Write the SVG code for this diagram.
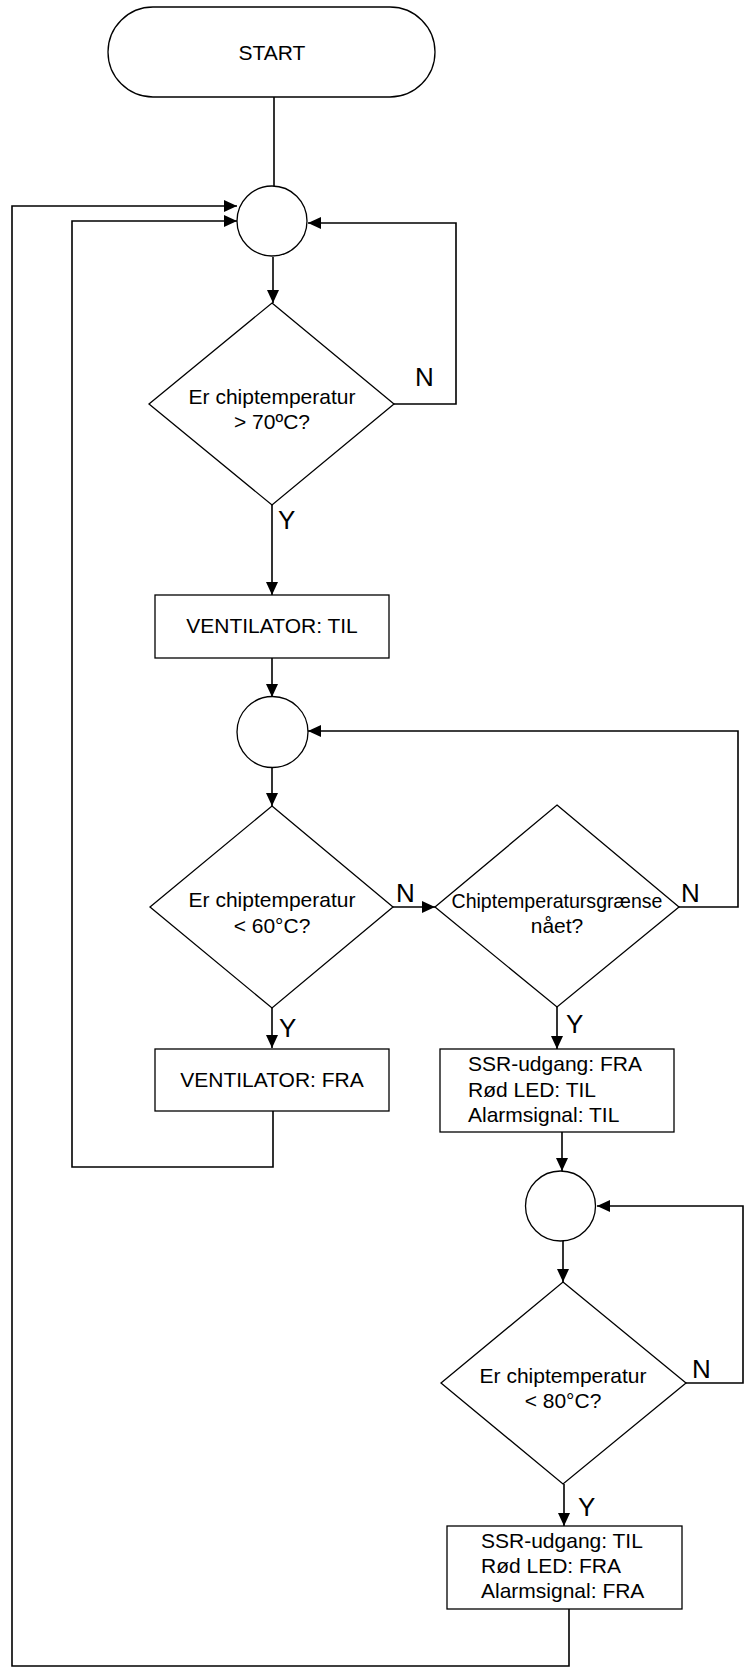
<svg xmlns="http://www.w3.org/2000/svg" width="747" height="1674" viewBox="0 0 747 1674">
<style>
.shape{fill:#fff;stroke:#000;stroke-width:1.3}
.t{font-family:"Liberation Sans",Arial,sans-serif;font-size:21px;fill:#000}
.c{text-anchor:middle}
.lbl{font-family:"Liberation Sans",Arial,sans-serif;font-size:26px;fill:#000}
.conn{fill:none;stroke:#000;stroke-width:1.6}
.arr{marker-end:url(#ah)}
</style>
<defs>
<marker id="ah" markerUnits="userSpaceOnUse" markerWidth="14" markerHeight="13" refX="13" refY="6" orient="auto">
<path d="M0,0 L13,6 L0,12 z" fill="#000"/>
</marker>
</defs>
<rect width="747" height="1674" fill="#fff"/>
<g id="connectors">
<path class="conn" d="M274,97 V186"/>
<path class="conn arr" d="M273,257 V303"/>
<path class="conn arr" d="M394,404 H456 V223 H308"/>
<path class="conn arr" d="M272,505 V595"/>
<path class="conn arr" d="M272,658 V697"/>
<path class="conn arr" d="M272,768 V806"/>
<path class="conn arr" d="M393,907 H435"/>
<path class="conn arr" d="M679,907 H738 V731 H308"/>
<path class="conn arr" d="M272,1008 V1048"/>
<path class="conn arr" d="M273,1111 V1167 H72 V221 H237"/>
<path class="conn arr" d="M557,1007 V1049"/>
<path class="conn arr" d="M562,1132 V1171"/>
<path class="conn arr" d="M563,1241 V1282"/>
<path class="conn arr" d="M686,1383 H743 V1206 H597"/>
<path class="conn arr" d="M564,1484 V1526"/>
<path class="conn arr" d="M569,1609 V1666 H12 V206 H237"/>
<text class="lbl" x="415" y="386">N</text>
<text class="lbl" x="278" y="529">Y</text>
<text class="lbl" x="396" y="902">N</text>
<text class="lbl" x="279" y="1037">Y</text>
<text class="lbl" x="681" y="902">N</text>
<text class="lbl" x="566" y="1033">Y</text>
<text class="lbl" x="692" y="1378">N</text>
<text class="lbl" x="578" y="1516">Y</text>
</g>
<g id="start">
<rect class="shape" x="108" y="7" width="327" height="90" rx="45" ry="45"/>
<text class="t c" x="272" y="60">START</text>
</g>
<g id="junction1">
<circle class="shape" cx="272" cy="221" r="35"/>
</g>
<g id="decision1">
<polygon class="shape" points="272,303 394,404 272,505 149,404"/>
<text class="t c" x="272" y="404">Er chiptemperatur</text>
<text class="t c" x="272" y="429">&gt; 70ºC?</text>
</g>
<g id="fan-on">
<rect class="shape" x="155" y="595" width="234" height="63"/>
<text class="t c" x="272" y="633">VENTILATOR: TIL</text>
</g>
<g id="junction2">
<circle class="shape" cx="272.5" cy="732" r="35.5"/>
</g>
<g id="decision2">
<polygon class="shape" points="272,806 393,907 272,1008 150,907"/>
<text class="t c" x="272" y="907">Er chiptemperatur</text>
<text class="t c" x="272" y="933">&lt; 60°C?</text>
</g>
<g id="decision3">
<polygon class="shape" points="557,805 679,907 557,1007 435,907"/>
<text class="t c" x="557" y="908" textLength="211" lengthAdjust="spacingAndGlyphs">Chiptemperatursgrænse</text>
<text class="t c" x="557" y="933">nået?</text>
</g>
<g id="fan-off">
<rect class="shape" x="155" y="1049" width="234" height="62"/>
<text class="t c" x="272" y="1087">VENTILATOR: FRA</text>
</g>
<g id="alarm-on">
<rect class="shape" x="440" y="1049" width="234" height="83"/>
<text class="t" x="468" y="1071">SSR-udgang: FRA</text>
<text class="t" x="468" y="1097">Rød LED: TIL</text>
<text class="t" x="468" y="1122">Alarmsignal: TIL</text>
</g>
<g id="junction3">
<circle class="shape" cx="560.5" cy="1206" r="35"/>
</g>
<g id="decision4">
<polygon class="shape" points="563,1282 686,1383 563,1484 441,1383"/>
<text class="t c" x="563" y="1383">Er chiptemperatur</text>
<text class="t c" x="563" y="1408">&lt; 80°C?</text>
</g>
<g id="alarm-off">
<rect class="shape" x="447" y="1526" width="235" height="83"/>
<text class="t" x="481" y="1548">SSR-udgang: TIL</text>
<text class="t" x="481" y="1573">Rød LED: FRA</text>
<text class="t" x="481" y="1598">Alarmsignal: FRA</text>
</g>
</svg>
